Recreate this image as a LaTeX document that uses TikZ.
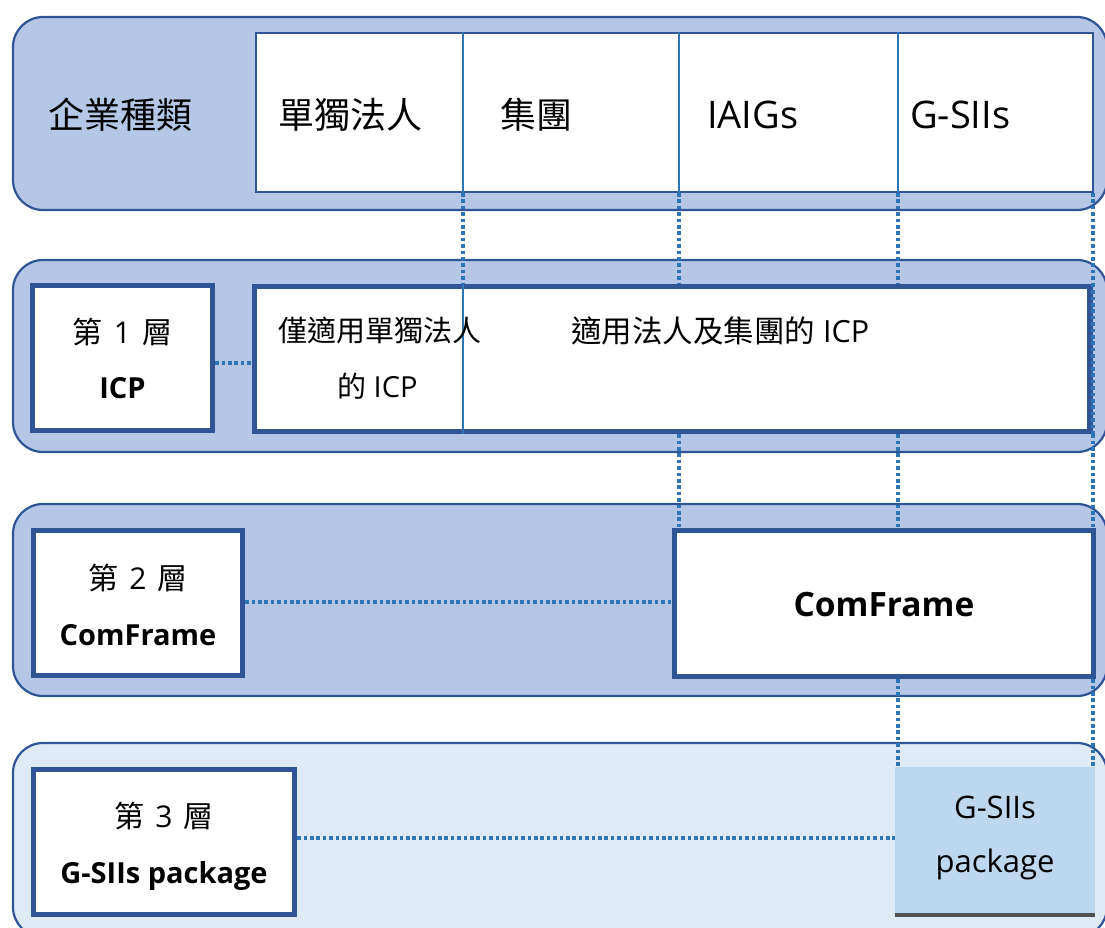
\documentclass[tikz,border=0pt]{standalone}
\usepackage{fontspec}
\setmainfont{Open Sans}
\newfontfamily\cjk{Noto Sans CJK TC}
\definecolor{bgdark}{HTML}{B4C7E7}
\definecolor{bglight}{HTML}{DEEBF7}
\definecolor{edge}{HTML}{2F5597}
\definecolor{dotc}{HTML}{2E75B6}
\definecolor{pkgfill}{HTML}{BDD7EE}
\definecolor{pkgline}{HTML}{505050}
\newcommand{\layer}[1]{{\cjk 第}\hspace{11pt}#1\hspace{11pt}{\cjk 層}}
\begin{document}
\begin{tikzpicture}[x=1pt,y=-1pt,
  rowbg/.style={draw=edge, line width=2.2pt, rounded corners=30pt, minimum width=1094pt, inner sep=0pt},
  thickbox/.style={draw=edge, line width=5.5pt, fill=white, inner sep=0pt},
  thinbox/.style={draw=edge, line width=2pt, fill=white, inner sep=0pt},
  divline/.style={draw=dotc, line width=2.2pt},
  dotline/.style={draw=dotc, line width=3.8pt, dash pattern=on 3.6pt off 2.8pt},
  txt/.style={inner sep=0pt, anchor=base west, text=black},
  ctxt/.style={inner sep=0pt, anchor=base, text=black},
  big/.style={font=\fontsize{36}{40}\selectfont},
  bigl/.style={font=\fontsize{38}{42}\selectfont},
  mid/.style={font=\fontsize{29}{32}\selectfont},
  lay/.style={font=\fontsize{30}{34}\selectfont},
  midb/.style={font=\fontsize{29}{32}\selectfont\bfseries},
]
\useasboundingbox (0,0) rectangle (1105,928);
\fill[white] (0,0) rectangle (1105,928);
\begin{scope}
\clip (0,0) rectangle (1105,928);
% row backgrounds
\node[rowbg, fill=bgdark, minimum height=193pt] (row0) at (560,113.5) {};
\node[rowbg, fill=bgdark, minimum height=192pt] (row1) at (560,356) {};
\node[rowbg, fill=bgdark, minimum height=192pt] (row2) at (560,600) {};
\node[rowbg, fill=bglight, minimum height=194pt] (row3) at (560,840) {};

% column positions
\coordinate (c1) at (463,0);
\coordinate (c2) at (679,0);
\coordinate (c3) at (898,0);
\coordinate (c4) at (1093,0);

% row 0 table
\node[thinbox, minimum width=837pt, minimum height=159pt] (table) at (674.5,112.5) {};
\draw[divline] (c1 |- table.north) -- (c1 |- table.south);
\draw[divline] (c2 |- table.north) -- (c2 |- table.south);
\draw[divline] (c3 |- table.north) -- (c3 |- table.south);

% row 1 boxes
\node[thickbox, minimum width=180pt, minimum height=145pt] (l1) at (122.5,358) {};
\node[thickbox, minimum width=835.5pt, minimum height=145pt] (icp) at (672.25,359) {};
\draw[divline] (c1 |- icp.north) -- (c1 |- icp.south);

% row 2 boxes
\node[thickbox, minimum width=209pt, minimum height=145pt] (l2) at (138,603) {};
\node[thickbox, minimum width=419pt, minimum height=146pt] (cf) at (884,603.5) {};

% row 3 boxes
\node[thickbox, minimum width=261pt, minimum height=145pt] (l3) at (164,842) {};
\node[fill=pkgfill, inner sep=0pt, minimum width=200pt, minimum height=148pt] (pkg) at (995,841) {};
\draw[draw=pkgline, line width=3.5pt] (pkg.south west) -- (pkg.south east);

% vertical dotted connectors
\draw[dotline] (c1 |- table.south) -- (c1 |- icp.north);
\draw[dotline] (c2 |- table.south) -- (c2 |- icp.north);
\draw[dotline] (c3 |- table.south) -- (c3 |- icp.north);
\draw[dotline] (c4 |- table.south) -- (c4 |- icp.north);
\draw[dotline] (c4 |- icp.north) -- (c4 |- icp.south);
\draw[dotline] (c2 |- icp.south) -- (c2 |- cf.north);
\draw[dotline] (c3 |- icp.south) -- (c3 |- cf.north);
\draw[dotline] (c4 |- icp.south) -- (c4 |- cf.north);
\draw[dotline] (c3 |- cf.south) -- (c3 |- pkg.north);
\draw[dotline] (c4 |- cf.south) -- (c4 |- pkg.north);

% horizontal dotted connectors
\draw[dotline] (l1.east |- 0,363) -- (icp.west |- 0,363);
\draw[dotline] (l2.east |- 0,602) -- (cf.west |- 0,602);
\draw[dotline] (l3.east |- 0,838) -- (pkg.west |- 0,838);

% row 0 texts
\node[txt, big] (t0) at (48,129) {\cjk 企業種類};
\node[txt, big] (t1) at (278,129) {\cjk 單獨法人};
\node[txt, big] (t2) at (500,129) {\cjk 集團};
\node[txt, bigl] (t3) at (707,129) {IAIGs};
\node[txt, bigl] (t4) at (910,129) {G-SIIs};

% row 1 texts
\node[ctxt, lay] (l1a) at (122.5,343) {\layer{1}};
\node[ctxt, midb] (l1b) at (122.5,398) {ICP};
\node[txt, mid] (i1) at (278,341) {\cjk 僅適用單獨法人};
\node[txt, mid] (i2) at (337,397) {{\cjk 的} ICP};
\node[txt, font=\fontsize{30.5}{34}\selectfont] (i3) at (571,342) {{\cjk 適用法人及集團的} ICP};

% row 2 texts
\node[ctxt, lay] (l2a) at (138,589) {\layer{2}};
\node[ctxt, midb] (l2b) at (138,645) {ComFrame};
\node[ctxt, font=\fontsize{33.5}{37}\selectfont\bfseries] (cft) at (884,616) {ComFrame};

% row 3 texts
\node[ctxt, lay] (l3a) at (164,827) {\layer{3}};
\node[ctxt, midb] (l3b) at (164,883) {G-SIIs package};
\node[ctxt, font=\fontsize{31}{34}\selectfont] (p1) at (995,818) {G-SIIs};
\node[ctxt, font=\fontsize{31}{34}\selectfont] (p2) at (995,872) {package};
\end{scope}
\end{tikzpicture}
\end{document}
